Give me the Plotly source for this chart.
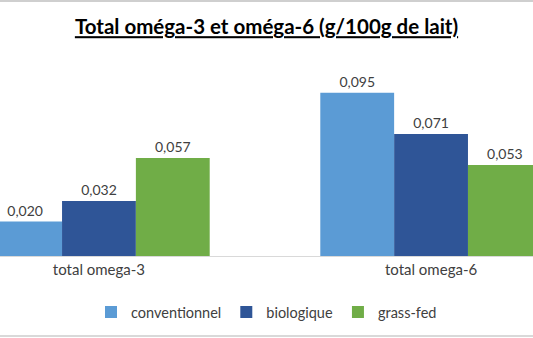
import plotly.graph_objects as go

categories = ["total omega-3", "total omega-6"]
conventionnel = [0.020, 0.095]
biologique = [0.032, 0.071]
grass_fed = [0.057, 0.053]

series = [
    ("conventionnel", conventionnel, "#5B9BD5"),
    ("biologique", biologique, "#2F5597"),
    ("grass-fed", grass_fed, "#70AD47"),
]

FONT = "Lato, 'Open Sans', sans-serif"
TEXT_COLOR = "#404040"

fig = go.Figure()
for name, vals, color in series:
    fig.add_trace(go.Bar(
        x=categories, y=vals, name=name,
        marker=dict(color=color, line=dict(width=0)),
        texttemplate="%{y:.3f}", textposition="outside",
        textfont=dict(family=FONT, size=14, color=TEXT_COLOR),
        cliponaxis=False,
    ))

fig.update_layout(
    width=533, height=338,
    margin=dict(l=0, r=0, t=60, b=82),
    paper_bgcolor="white", plot_bgcolor="white",
    separators=", ",
    barmode="group", bargap=0.333, bargroupgap=0,
    title=dict(
        text="<b><u>Total oméga-3 et oméga-6 (g/100g de lait)</u></b>",
        x=0.5, xanchor="center", y=1 - 27 / 338, yanchor="middle",
        font=dict(family=FONT, size=20.5, color="black"),
    ),
    xaxis=dict(
        range=[-0.298, 1.307], showgrid=False, zeroline=False,
        showline=True, linecolor="#D9D9D9", linewidth=1,
        ticks="", tickfont=dict(family=FONT, size=15, color=TEXT_COLOR),
    ),
    yaxis=dict(range=[0, 0.114], visible=False),
    showlegend=True,
    legend=dict(
        orientation="h", x=0.5, xanchor="center", y=-0.286, yanchor="middle",
        font=dict(family=FONT, size=14.5, color=TEXT_COLOR),
        itemwidth=30, tracegroupgap=0,
    ),
    shapes=[
        dict(type="line", xref="paper", yref="paper", x0=0, x1=1,
             y0=1 + 59 / 196, y1=1 + 59 / 196, line=dict(color="#BFBFBF", width=1.5)),
        dict(type="line", xref="paper", yref="paper", x0=0, x1=1,
             y0=-80 / 196, y1=-80 / 196, line=dict(color="#D9D9D9", width=2)),
    ],
)

fig.write_html("out.html")
